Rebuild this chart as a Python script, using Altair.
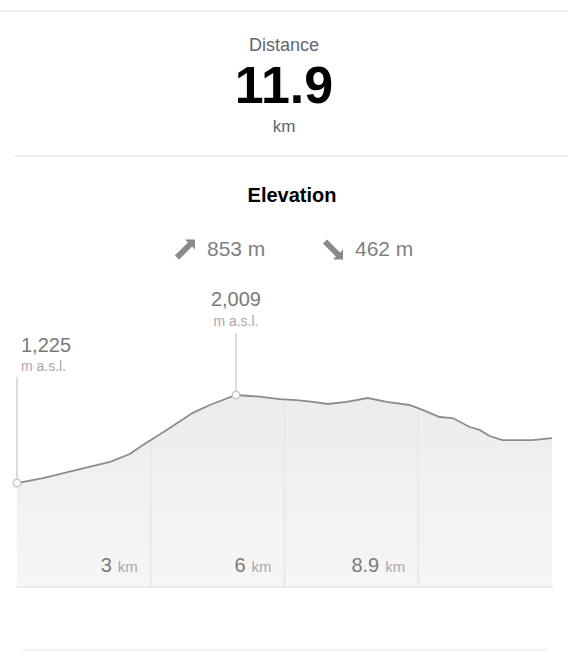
import altair as alt
import pandas as pd

# ---- data ----
km = [0.0, 0.58, 1.33, 2.07, 2.51, 2.80, 3.33, 3.91, 4.29, 4.87, 5.18, 5.40, 5.84,
      6.22, 6.58, 6.91, 7.33, 7.80, 8.22, 8.73, 9.02, 9.40, 9.69, 10.07, 10.29,
      10.51, 10.80, 11.47, 11.9]
elev = [1225, 1270, 1342, 1413, 1484, 1564, 1698, 1850, 1920, 2009, 2000, 1995, 1973,
        1964, 1947, 1929, 1947, 1982, 1947, 1920, 1876, 1813, 1804, 1724, 1698,
        1644, 1608, 1608, 1626]

total_km = [11.9]
ascent_m = [853]
descent_m = [462]
grid_km = [2.975, 5.95, 8.925]
grid_label = ["3", "6", "8.9"]
grid_top = [1609, 1970, 1890]
mark_km = [0.0, 4.87]
mark_elev = [1225, 2009]

FONT = "Liberation Sans, Arial, sans-serif"
GREY_TXT = "#7a7a7a"
LIGHT_TXT = "#a8a8a8"

prof = pd.DataFrame({"km": km, "elev": elev})
grid = pd.DataFrame({"km": grid_km, "lab": grid_label, "top": grid_top})
marks = pd.DataFrame({"km": mark_km, "elev": mark_elev})
start = marks.iloc[[0]]
peak = marks.iloc[[1]]

BASE = 300
xs = alt.Scale(domain=[0, 11.9], range=[17, 552], nice=False, zero=False)
ys = alt.Scale(domain=[BASE, 2009], range=[587, 395], nice=False, zero=False)
X = alt.X("km:Q", scale=xs, axis=None)
Y = alt.Y("elev:Q", scale=ys, axis=None)

def hrule(y, x1, x2, color="#e6e6e6"):
    return alt.Chart(pd.DataFrame({"a": [0]})).mark_rule(color=color, strokeWidth=1.5).encode(
        x=alt.value(x1), x2=alt.value(x2), y=alt.value(y))

def label(text, x, y, size, color, weight="normal", align="center", font=FONT):
    return alt.Chart(pd.DataFrame({"t": [text]})).mark_text(
        font=font, fontSize=size, color=color, fontWeight=weight, align=align,
        baseline="middle").encode(text="t:N", x=alt.value(x), y=alt.value(y))

up_arrow = "M -1.01 0.59 L 0.29 -0.71 L 0 -1 L 1 -1 L 1 0 L 0.71 -0.29 L -0.59 1.01 Z"
down_arrow = "M -1.01 -0.59 L 0.29 0.71 L 0 1 L 1 1 L 1 0 L 0.71 0.29 L -0.59 -1.01 Z"

def arrow(path, x, y):
    return alt.Chart(pd.DataFrame({"a": [0]})).mark_point(
        shape=path, size=400, filled=True, color="#8a8a8a", opacity=1).encode(
        x=alt.value(x), y=alt.value(y))

layers = []
layers.append(hrule(11, 0, 568))
layers.append(hrule(156, 15, 568))
layers.append(hrule(650, 22, 547, "#ececec"))

# header
layers.append(label("Distance", 284, 46, 18, "#5f6670"))
layers.append(alt.Chart(pd.DataFrame({"d": total_km})).mark_text(
    font=FONT, fontSize=52, fontWeight="bold", color="#000000", baseline="middle").encode(
    text=alt.Text("d:Q", format=".1f"), x=alt.value(284), y=alt.value(87)))
layers.append(label("km", 284, 127, 17, "#5f6670"))
layers.append(label("Elevation", 292, 196, 20, "#000000", weight="bold"))
layers.append(arrow(up_arrow, 185, 249.5))
layers.append(arrow(down_arrow, 333, 249.5))
layers.append(alt.Chart(pd.DataFrame({"v": ascent_m})).transform_calculate(
    t="datum.v + ' m'").mark_text(font=FONT, fontSize=21, color="#808080", align="left",
    baseline="middle").encode(text="t:N", x=alt.value(207), y=alt.value(250)))
layers.append(alt.Chart(pd.DataFrame({"v": descent_m})).transform_calculate(
    t="datum.v + ' m'").mark_text(font=FONT, fontSize=21, color="#808080", align="left",
    baseline="middle").encode(text="t:N", x=alt.value(355), y=alt.value(250)))

# profile area
grad = alt.Gradient(gradient="linear",
                    stops=[alt.GradientStop(color="#ececec", offset=0),
                           alt.GradientStop(color="#f6f6f6", offset=1)],
                    x1=0, x2=0, y1=0, y2=1)
layers.append(alt.Chart(prof).mark_area(color=grad, opacity=1).encode(
    x=X, y=Y, y2=alt.datum(BASE)))
layers.append(alt.Chart(grid).mark_rule(color="#e9e9e9", strokeWidth=2).encode(
    x=X, y=alt.Y("top:Q", scale=ys, axis=None), y2=alt.datum(BASE)))
layers.append(alt.Chart(pd.DataFrame({"a": [0]})).mark_rule(color="#ebebeb", strokeWidth=2).encode(
    x=alt.value(16), x2=alt.value(553), y=alt.value(587)))
layers.append(alt.Chart(prof).mark_line(color="#8c8c8c", strokeWidth=1.8).encode(x=X, y=Y))

# annotation stems
layers.append(alt.Chart(start).mark_rule(color="#dcdcdc", strokeWidth=2).encode(
    x=X, y=Y, y2=alt.value(377)))
layers.append(alt.Chart(peak).mark_rule(color="#dcdcdc", strokeWidth=2).encode(
    x=X, y=Y, y2=alt.value(333)))
layers.append(alt.Chart(marks).mark_point(filled=True, fill="white", stroke="#c8c8c8",
                                          strokeWidth=1.5, size=55, opacity=1).encode(x=X, y=Y))

# annotation labels
layers.append(alt.Chart(start).mark_text(font=FONT, fontSize=20, color=GREY_TXT, align="left",
                                         baseline="middle", dx=4).encode(
    x=X, y=alt.value(346), text=alt.Text("elev:Q", format=",")))
layers.append(alt.Chart(start).mark_text(font=FONT, fontSize=14, color=LIGHT_TXT, align="left",
                                         baseline="middle", dx=4, text="m a.s.l.").encode(
    x=X, y=alt.value(367)))
layers.append(alt.Chart(peak).mark_text(font=FONT, fontSize=20, color=GREY_TXT, align="center",
                                        baseline="middle").encode(
    x=X, y=alt.value(300), text=alt.Text("elev:Q", format=",")))
layers.append(alt.Chart(peak).mark_text(font=FONT, fontSize=14, color=LIGHT_TXT, align="center",
                                        baseline="middle", text="m a.s.l.").encode(
    x=X, y=alt.value(322)))

# km labels
layers.append(alt.Chart(grid).mark_text(font=FONT, fontSize=20, color=GREY_TXT, align="right",
                                        baseline="middle", dx=-39).encode(
    x=X, y=alt.value(566), text="lab:N"))
layers.append(alt.Chart(grid).mark_text(font=FONT, fontSize=15, color=LIGHT_TXT, align="right",
                                        baseline="middle", dx=-13, text="km").encode(
    x=X, y=alt.value(567)))

chart = alt.layer(*layers).properties(
    width=568, height=660, padding=0,
    autosize=alt.AutoSizeParams(type="none"),
    background="white",
).configure_view(stroke=None)

chart.save("out.html", embed_options={"renderer": "svg", "actions": False})
